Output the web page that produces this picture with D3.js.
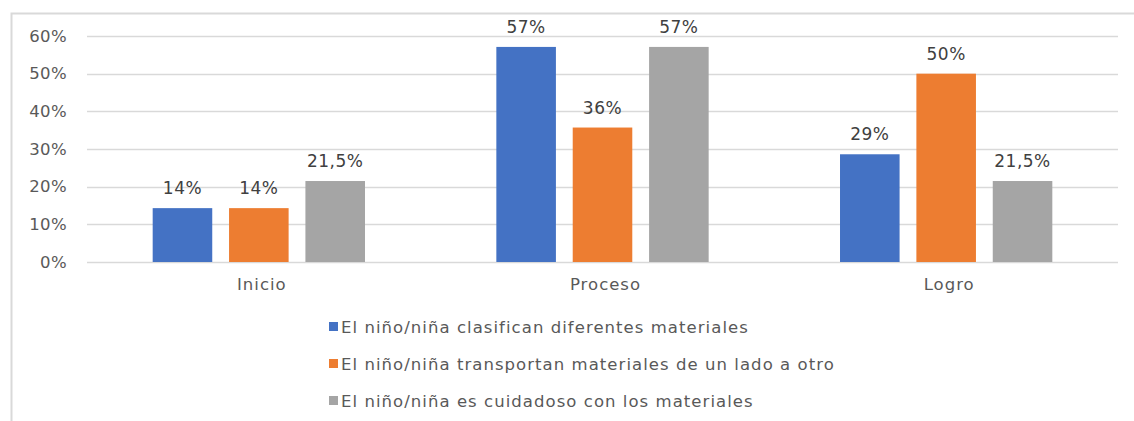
<!DOCTYPE html>
<html><head><meta charset="utf-8">
<script src="https://cdn.jsdelivr.net/npm/d3@7"></script>
<style>body{margin:0;background:#fff;}svg{display:block;font-family:"DejaVu Sans",sans-serif;}</style>
</head><body><svg id="c" width="1134" height="421"></svg>
<script>
const categories = ["Inicio", "Proceso", "Logro"];
const seriesNames = [
  "El niño/niña clasifican diferentes materiales",
  "El niño/niña transportan materiales de un lado a otro",
  "El niño/niña es cuidadoso con los materiales"
];
const seriesColors = ["#4472C4", "#ED7D31", "#A5A5A5"];
const clasifican = [14.3, 57.1, 28.6];
const transportan = [14.3, 35.7, 50];
const cuidadoso = [21.5, 57.1, 21.5];
const labelsClasifican = ["14%", "57%", "29%"];
const labelsTransportan = ["14%", "36%", "50%"];
const labelsCuidadoso = ["21,5%", "57%", "21,5%"];
const yTicks = [0, 10, 20, 30, 40, 50, 60];

const values = [clasifican, transportan, cuidadoso];
const labels = [labelsClasifican, labelsTransportan, labelsCuidadoso];

const FONT = "'DejaVu Sans',sans-serif";
const svg = d3.select("#c");
const mLeft = 87, mRight = 1118, mTop = 36, mBottom = 262;
const x = d3.scaleBand().domain(categories).range([mLeft, mRight]).paddingInner(0).paddingOuter(0);
const x1 = d3.scaleBand().domain(d3.range(3)).range([0, x.bandwidth()]).paddingInner(0.22).paddingOuter(0.86);
const y = d3.scaleLinear().domain([0, 60]).range([mBottom, mTop]);

// chart border
svg.append("path").attr("d", `M11.5,421 V13.5 H1134`).attr("fill", "none").attr("stroke", "#d9d9d9").attr("stroke-width", 2);

// gridlines
svg.append("g").selectAll("line").data(yTicks).join("line")
  .attr("x1", mLeft).attr("x2", mRight)
  .attr("y1", d => Math.round(y(d)) + 0.5).attr("y2", d => Math.round(y(d)) + 0.5)
  .attr("stroke", "#d9d9d9").attr("stroke-width", 1.5);

// y axis labels
const yAxis = d3.axisLeft(y).tickValues(yTicks).tickFormat(d => d + "%").tickSize(0).tickPadding(0);
const ga = svg.append("g").attr("transform", `translate(${mLeft - 20},0)`).call(yAxis);
ga.select(".domain").remove();
ga.selectAll("text").attr("fill", "#595959").attr("font-size", 16.5).attr("letter-spacing", 0.4).attr("font-family", FONT);

// x axis labels
const xAxis = d3.axisBottom(x).tickSize(0).tickPadding(0);
const gx = svg.append("g").attr("transform", `translate(3,${mBottom + 16})`).call(xAxis);
gx.select(".domain").remove();
gx.selectAll("text").attr("fill", "#595959").attr("font-size", 16.5).attr("letter-spacing", 1).attr("font-family", FONT);

// bars
values.forEach((vals, s) => {
  const g = svg.append("g");
  g.selectAll("rect").data(categories).join("rect")
    .attr("x", c => x(c) + x1(s))
    .attr("width", x1.bandwidth())
    .attr("y", (c, i) => y(vals[i]))
    .attr("height", (c, i) => y(0) - y(vals[i]))
    .attr("fill", seriesColors[s]);
  g.selectAll("text").data(categories).join("text")
    .attr("x", c => x(c) + x1(s) + x1.bandwidth() / 2)
    .attr("y", (c, i) => y(vals[i]) - 14)
    .attr("text-anchor", "middle")
    .attr("fill", "#404040").attr("font-size", 17).attr("letter-spacing", 0.5).attr("font-family", FONT)
    .text((c, i) => labels[s][i]);
});

// legend
const lg = svg.append("g");
seriesNames.forEach((n, i) => {
  const yy = 327 + i * 37;
  lg.append("rect").attr("x", 329).attr("y", yy - 5).attr("width", 9).attr("height", 9).attr("fill", seriesColors[i]);
  lg.append("text").attr("x", 341).attr("y", yy).attr("dy", "0.35em")
    .attr("fill", "#595959").attr("font-size", 16.5).attr("letter-spacing", 1.05).attr("font-family", FONT).text(n);
});
</script></body></html>
